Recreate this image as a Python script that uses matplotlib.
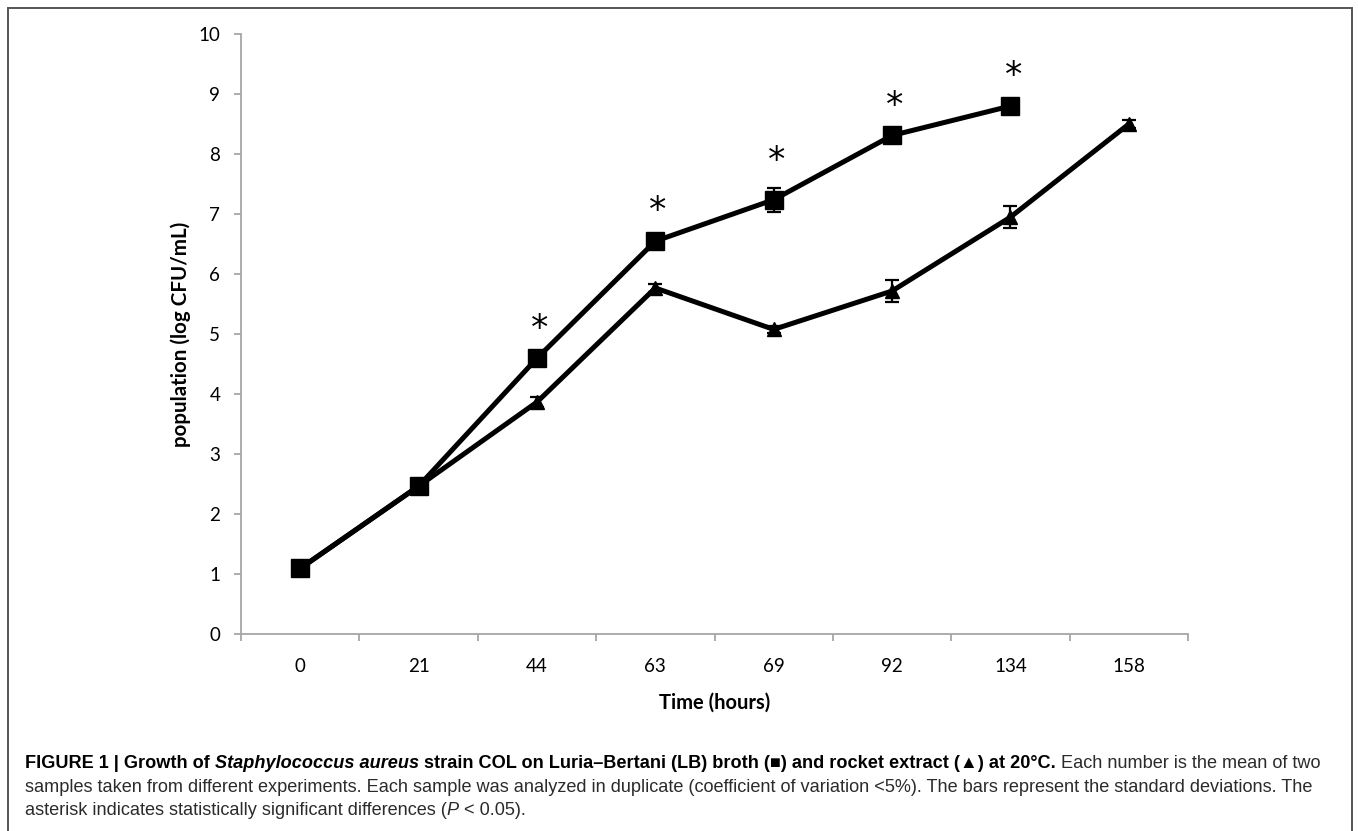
#!/usr/bin/env python3
# -*- coding: utf-8 -*-
"""
S. aureus COL 生长曲线：LB 培养基 vs 芝麻菜提取物 (20°C)
"""
import matplotlib
matplotlib.use("Agg")
import matplotlib.pyplot as plt
from matplotlib.patches import Rectangle
import numpy as np

# ======================== 数据 ========================
hours = ["0", "21", "44", "63", "69", "92", "134", "158"]

# LB broth (■)，134 h 之后无数据
lb_mean = [1.10, 2.47, 4.60, 6.55, 7.24, 8.31, 8.80]
lb_sd = [0.04, 0.04, 0.05, 0.05, 0.20, 0.05, 0.05]

# rocket extract (▲)
rocket_mean = [1.10, 2.47, 3.87, 5.77, 5.08, 5.72, 6.95, 8.50]
rocket_sd = [0.04, 0.04, 0.08, 0.06, 0.06, 0.18, 0.18, 0.06]

# 显著性标记（*）所在的时间点
significant = ["44", "63", "69", "92", "134"]

ylabel = "population (log CFU/mL)"
xlabel = "Time (hours)"

AXIS_GREY = "#a6a6a6"
TICK_FONT = "Lato"
CAP_FONT = ["Liberation Sans", "DejaVu Sans"]


def draw_chunks(fig, renderer, x, y, chunks):
    """依次拼接不同字体样式的文本片段（像素坐标）"""
    for text, kw in chunks:
        t = fig.text(x / fig.bbox.width, 1 - y / fig.bbox.height, text,
                     va="baseline", ha="left", **kw)
        x += t.get_window_extent(renderer).width
    return x


fig = plt.figure(figsize=(13.58, 8.31), dpi=100)
ax = fig.add_axes([0.1775, 0.2365, 0.6973, 0.7226])

x_pos = np.arange(len(hours))

ax.errorbar(x_pos[:len(lb_mean)], lb_mean, yerr=lb_sd, color="black", lw=3.6,
            marker="s", markersize=13, capsize=5, elinewidth=1.6, capthick=1.6,
            zorder=4)
ax.errorbar(x_pos, rocket_mean, yerr=rocket_sd, color="black", lw=3.6,
            marker="^", markersize=10, capsize=5, elinewidth=1.6, capthick=1.6,
            zorder=3)

# 星号：显著差异
for h in significant:
    i = hours.index(h)
    ax.annotate("*", (x_pos[i], lb_mean[i] + lb_sd[i]), xytext=(2, 7),
                textcoords="offset points", ha="center", va="bottom",
                fontsize=25, family="DejaVu Sans")

ax.set_xlim(-0.5, len(hours) - 0.5)
ax.set_ylim(0, 10)
ax.set_yticks(range(0, 11))
ax.set_xticks(x_pos)
ax.set_xticklabels(hours)
ax.set_xticks(np.arange(-0.5, len(hours)), minor=True)

for s in ["top", "right"]:
    ax.spines[s].set_visible(False)
for s in ["left", "bottom"]:
    ax.spines[s].set_color(AXIS_GREY)
    ax.spines[s].set_linewidth(1.3)

ax.tick_params(axis="x", which="major", length=0, pad=17, labelsize=13.5)
ax.tick_params(axis="x", which="minor", length=5, width=1.3, color=AXIS_GREY)
ax.tick_params(axis="y", length=5, width=1.3, color=AXIS_GREY, pad=10,
               labelsize=13.5)
for lab in ax.get_xticklabels() + ax.get_yticklabels():
    lab.set_family(TICK_FONT)

ax.set_ylabel(ylabel, fontsize=14.8, fontweight="bold", family=TICK_FONT,
              labelpad=5)
ax.set_xlabel(xlabel, fontsize=14.5, fontweight="bold", family=TICK_FONT,
              labelpad=13)

# 外框
fig.patches.append(Rectangle((8 / 1358, -0.1), 1344 / 1358, 1 - 8 / 831 + 0.1,
                             transform=fig.transFigure, fill=False,
                             edgecolor="#555555", lw=1.4))

# 图注
fig.canvas.draw()
renderer = fig.canvas.get_renderer()
fs = 13.1
bold = dict(fontsize=fs, fontweight="bold", family=CAP_FONT, color="black")
bold_it = dict(fontsize=fs, fontweight="bold", style="italic", family=CAP_FONT,
               color="black")
reg = dict(fontsize=fs, family=CAP_FONT, color="#2b2b2b")
it = dict(fontsize=fs, style="italic", family=CAP_FONT, color="#2b2b2b")

draw_chunks(fig, renderer, 25, 768, [
    ("FIGURE 1 | Growth of ", bold),
    ("Staphylococcus aureus", bold_it),
    (" strain COL on Luria\u2013Bertani (LB) broth (\u25a0) and rocket extract (\u25b2) at 20\u00b0C.", bold),
    (" Each number is the mean of two", reg),
])
draw_chunks(fig, renderer, 25, 792, [
    ("samples taken from different experiments. Each sample was analyzed in duplicate "
     "(coefficient of variation <5%). The bars represent the standard deviations. The", reg),
])
draw_chunks(fig, renderer, 25, 815, [
    ("asterisk indicates statistically significant differences (", reg),
    ("P", it),
    (" < 0.05).", reg),
])

fig.savefig("out.png", dpi=100)
